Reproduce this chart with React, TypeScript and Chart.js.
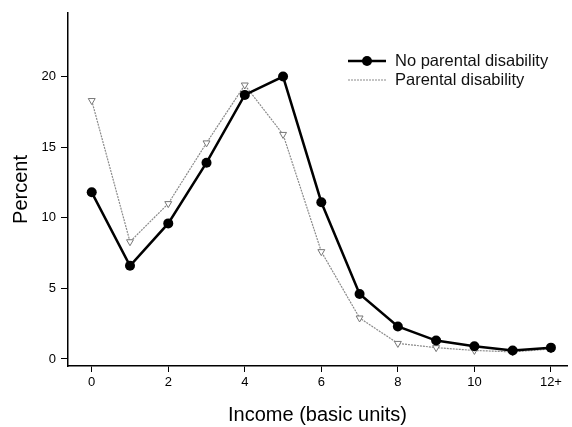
import React, { useEffect, useRef } from "react";
import { Chart, registerables } from "chart.js";

Chart.register(...registerables);

const incomeLevels = [0, 1, 2, 3, 4, 5, 6, 7, 8, 9, 10, 11, 12];
const noParentalDisability = [11.8, 6.6, 9.6, 13.9, 18.7, 20.0, 11.1, 4.6, 2.3, 1.3, 0.9, 0.6, 0.8];
const parentalDisability = [18.3, 8.3, 11.0, 15.3, 19.4, 15.9, 7.6, 2.9, 1.1, 0.8, 0.6, 0.5, 0.7];
const xTickValues = [0, 2, 4, 6, 8, 10, 12];
const xTickLabels = ["0", "2", "4", "6", "8", "10", "12+"];
const yTickValues = [0, 5, 10, 15, 20];
const seriesNames = ["No parental disability", "Parental disability"];

const FONT = "'Liberation Sans', Arial, sans-serif";

const legendPlugin = {
  id: "insideLegend",
  afterDraw(chart: any) {
    const ctx = chart.ctx;
    ctx.save();
    const x0 = 348;
    const x1 = 386;
    const tx = 395;
    const rows = [61, 80];
    ctx.strokeStyle = "#000";
    ctx.lineWidth = 2.5;
    ctx.beginPath();
    ctx.moveTo(x0, rows[0]);
    ctx.lineTo(x1, rows[0]);
    ctx.stroke();
    ctx.fillStyle = "#000";
    ctx.beginPath();
    ctx.arc((x0 + x1) / 2, rows[0], 5, 0, Math.PI * 2);
    ctx.fill();
    ctx.strokeStyle = "#8a8a8a";
    ctx.lineWidth = 1.2;
    ctx.setLineDash([2, 1]);
    ctx.beginPath();
    ctx.moveTo(x0, rows[1]);
    ctx.lineTo(x1, rows[1]);
    ctx.stroke();
    ctx.setLineDash([]);
    ctx.fillStyle = "#111";
    ctx.font = `16.5px ${FONT}`;
    ctx.textBaseline = "middle";
    ctx.textAlign = "left";
    ctx.fillText(seriesNames[0], tx, rows[0]);
    ctx.fillText(seriesNames[1], tx, rows[1]);
    ctx.restore();
  },
};

export default function App() {
  const canvasRef = useRef<HTMLCanvasElement | null>(null);

  useEffect(() => {
    document.body.style.margin = "0";
    const canvas = canvasRef.current!;
    const chart = new Chart(canvas, {
      type: "line",
      data: {
        datasets: [
          {
            label: seriesNames[0],
            data: incomeLevels.map((x, i) => ({ x, y: noParentalDisability[i] })),
            borderColor: "#000",
            backgroundColor: "#000",
            borderWidth: 2.5,
            pointRadius: 5,
            pointBorderWidth: 0,
            pointBackgroundColor: "#000",
            tension: 0,
            order: 1,
          },
          {
            label: seriesNames[1],
            data: incomeLevels.map((x, i) => ({ x, y: parentalDisability[i] })),
            borderColor: "#8a8a8a",
            borderWidth: 1.2,
            borderDash: [2, 1],
            pointStyle: "triangle",
            rotation: 180,
            pointRadius: 4,
            pointBorderWidth: 1,
            pointBorderColor: "#777",
            pointBackgroundColor: "#fff",
            tension: 0,
            order: 2,
          },
        ],
      },
      options: {
        animation: false,
        responsive: false,
        maintainAspectRatio: false,
        layout: { padding: { left: 0, right: 2, top: 13, bottom: 0 } },
        plugins: { legend: { display: false }, tooltip: { enabled: false } },
        scales: {
          x: {
            type: "linear",
            min: -0.62,
            max: 12.42,
            afterFit(scale: any) {
              scale.height = 61;
            },
            afterBuildTicks(scale: any) {
              scale.ticks = xTickValues.map((v) => ({ value: v }));
            },
            grid: {
              drawOnChartArea: false,
              drawTicks: true,
              tickLength: 6,
              color: "#000",
              tickColor: "#000",
            },
            border: { display: true, color: "#000", width: 1.5 },
            ticks: {
              color: "#000",
              font: { family: FONT, size: 13 },
              padding: 3,
              maxRotation: 0,
              autoSkip: false,
              callback: (v: any) => {
                const i = xTickValues.indexOf(Number(v));
                return i >= 0 ? xTickLabels[i] : "";
              },
            },
            title: {
              display: true,
              text: "Income (basic units)",
              color: "#000",
              font: { family: FONT, size: 20 },
              padding: { top: 8, bottom: 0 },
            },
          },
          y: {
            type: "linear",
            min: -0.5,
            max: 24.5,
            afterFit(scale: any) {
              scale.width = 68;
            },
            afterBuildTicks(scale: any) {
              scale.ticks = yTickValues.map((v) => ({ value: v }));
            },
            grid: {
              drawOnChartArea: false,
              drawTicks: true,
              tickLength: 7,
              color: "#000",
              tickColor: "#000",
            },
            border: { display: true, color: "#000", width: 1.5 },
            ticks: {
              color: "#000",
              font: { family: FONT, size: 13 },
              padding: 5,
              autoSkip: false,
            },
            title: {
              display: true,
              text: "Percent",
              color: "#000",
              font: { family: FONT, size: 20 },
              padding: { top: 9, bottom: 0 },
            },
          },
        },
      },
      plugins: [legendPlugin],
    });
    return () => chart.destroy();
  }, []);

  return (
    <div style={{ position: "absolute", left: 0, top: 0, width: 572, height: 427, background: "#fff" }}>
      <canvas ref={canvasRef} width={572} height={427} style={{ width: 572, height: 427 }} />
    </div>
  );
}
